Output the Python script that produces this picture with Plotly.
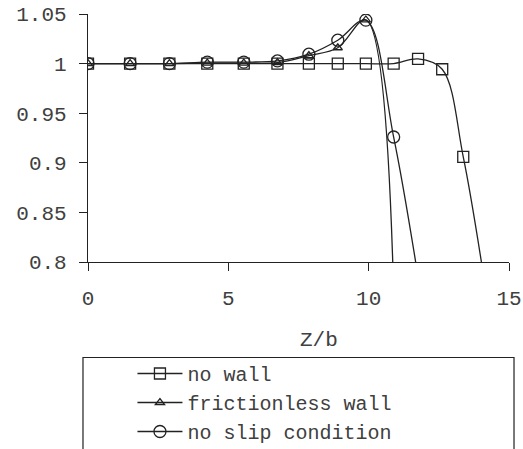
import plotly.graph_objects as go

z_b = [0, 1.5, 2.9, 4.25, 5.55, 6.75, 7.87, 8.9, 9.9, 10.89, 11.76, 12.62, 13.37, 14.1]

no_wall = [1.0, 1.0, 1.0, 1.0, 1.0, 1.0, 1.0, 1.0, 1.0, 1.0, 1.0047, 0.9943, 0.906, 0.785]
frictionless = [1.0, 1.0, 1.0, 1.0005, 1.0005, 1.001, 1.008, 1.016, 1.044, 0.77]
no_slip = [1.0, 1.0, 1.0, 1.0015, 1.0015, 1.0027, 1.0095, 1.0236, 1.0438, 0.926, 0.785]

y_ticks = [0.8, 0.85, 0.9, 0.95, 1.0, 1.05]
x_ticks = [0, 5, 10, 15]

names = ["no wall", "frictionless wall", "no slip condition"]
series = [no_wall, frictionless, no_slip]
symbols = ["square-open", "triangle-up-open", "circle-open"]
sizes = [11, 8, 12]

FONT = "Liberation Mono, Courier New, monospace"
INK = "#222222"
TXT = "#404040"
FS = 21

fig = go.Figure()
for name, ys, sym, sz in zip(names, series, symbols, sizes):
    fig.add_trace(go.Scatter(
        x=z_b[:len(ys)], y=ys, name=name, mode="lines+markers",
        line=dict(color=INK, width=1.3, shape="spline", smoothing=1.0),
        marker=dict(symbol=sym, size=sz, color=INK, line=dict(width=1.3, color=INK)),
    ))

fig.update_layout(
    width=523, height=449,
    margin=dict(l=88, r=14, t=14, b=187, autoexpand=False),
    paper_bgcolor="white", plot_bgcolor="white",
    font=dict(family=FONT, size=FS, color=TXT),
    showlegend=True,
    legend=dict(
        x=0.1056, y=0.2116, xref="paper", yref="container",
        xanchor="left", yanchor="top",
        bgcolor="rgba(0,0,0,0)", borderwidth=0,
        font=dict(family=FONT, size=20, color=TXT),
        itemwidth=45, tracegroupgap=0,
    ),
    xaxis=dict(
        range=[0, 15], tickvals=x_ticks, showgrid=False, zeroline=False,
        showline=True, linecolor=INK, linewidth=1.2,
        ticks="outside", ticklen=8, tickcolor=INK, tickwidth=1.2,
        ticklabelstandoff=9, automargin=False, ticklabeloverflow="allow",
    ),
    yaxis=dict(
        range=[0.8, 1.05], tickvals=y_ticks, showgrid=False, zeroline=False,
        showline=True, linecolor=INK, linewidth=1.2,
        ticks="outside", ticklen=8, tickcolor=INK, tickwidth=1.2,
        ticklabelstandoff=8, automargin=False, ticklabeloverflow="allow",
    ),
    annotations=[dict(
        text="Z/b", x=0.548, y=-0.316, xref="paper", yref="paper",
        xanchor="center", yanchor="middle", showarrow=False,
        font=dict(family=FONT, size=FS, color=TXT),
    )],
    shapes=[dict(
        type="rect", xref="paper", yref="paper",
        x0=-0.0119, x1=1.0119, y0=-0.9, y1=-0.385,
        line=dict(color=INK, width=1.2), fillcolor="rgba(0,0,0,0)",
    )],
)

fig.write_html("out.html", config={"displayModeBar": False},
               post_script="document.body.style.margin='0';")
